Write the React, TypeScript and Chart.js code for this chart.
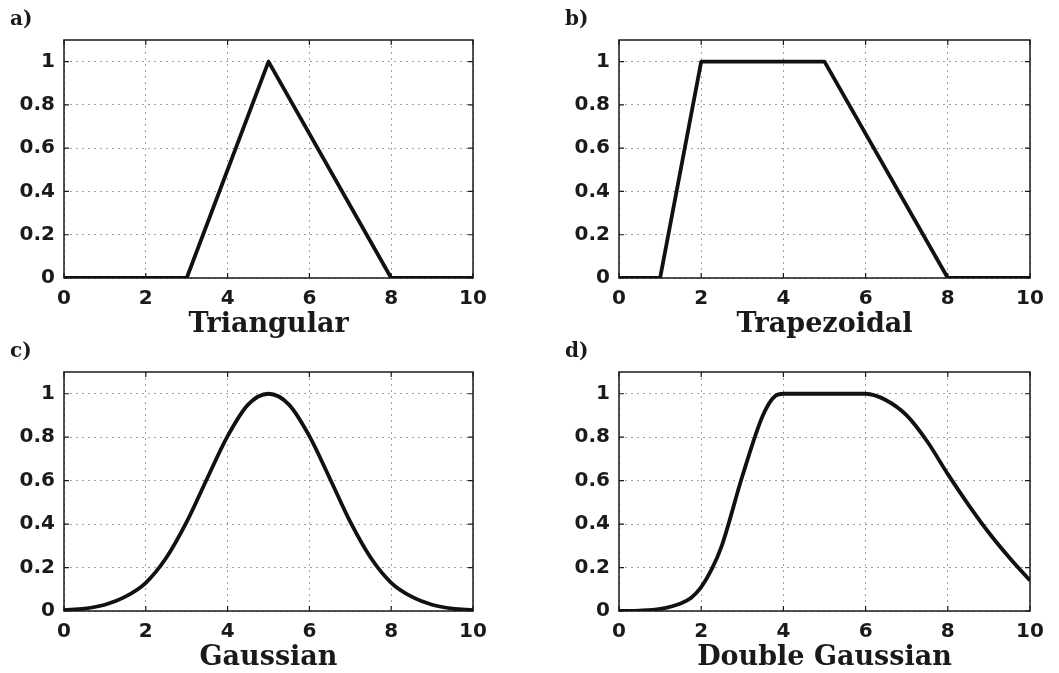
import React, { useEffect, useRef } from 'react';
import { Chart, registerables } from 'chart.js';

Chart.register(...registerables);

// ---- data ----
const triX = [0, 3, 5, 8, 10];
const triY = [0, 0, 1, 0, 0];

const trapX = [0, 1, 2, 5, 8, 10];
const trapY = [0, 0, 1, 1, 0, 0];

const gaussX = [0, 0.5, 1, 1.5, 2, 2.5, 3, 3.5, 4, 4.5, 5, 5.5, 6, 6.5, 7, 7.5, 8, 8.5, 9, 9.5, 10];
const gaussY = [0.004, 0.011, 0.029, 0.066, 0.13, 0.245, 0.41, 0.61, 0.805, 0.95, 1, 0.95, 0.805, 0.61, 0.41, 0.245, 0.13, 0.066, 0.029, 0.011, 0.004];

const dgX = [0, 0.5, 1, 1.5, 1.75, 2, 2.25, 2.5, 3, 3.5, 3.8, 4, 5, 6, 6.5, 7, 7.5, 8, 8.5, 9, 9.5, 10];
const dgY = [0, 0.002, 0.01, 0.035, 0.06, 0.11, 0.19, 0.3, 0.62, 0.9, 0.99, 1, 1, 1, 0.97, 0.9, 0.78, 0.63, 0.49, 0.36, 0.245, 0.14];

const xTicks = [0, 2, 4, 6, 8, 10];
const yTicks = [0, 0.2, 0.4, 0.6, 0.8, 1];
const xMin = 0;
const xMax = 10;
const yMin = 0;
const yMax = 1.1;

const panelLabels = ['a)', 'b)', 'c)', 'd)'];
const panelTitles = ['Triangular', 'Trapezoidal', 'Gaussian', 'Double Gaussian'];

// ---- styles ----
const TICK_FONT = { family: "'DejaVu Sans', sans-serif", size: 20, weight: 'bold' as const, lineHeight: 1.2 };
const TITLE_FONT = { family: "'DejaVu Serif', serif", size: 27, weight: 'bold' as const, lineHeight: 1.1 };
const LABEL_FONT = { family: "'DejaVu Serif', serif", size: 20, weight: 'bold' as const, lineHeight: 1.0 };
const INK = '#1a1a1a';

const framePlugin = {
  id: 'frame',
  beforeDatasetsDraw(chart: any) {
    const { ctx, chartArea: a, scales } = chart;
    ctx.save();
    ctx.strokeStyle = INK;
    ctx.lineWidth = 1.5;
    ctx.strokeRect(a.left, a.top, a.right - a.left, a.bottom - a.top);
    ctx.lineWidth = 1.2;
    const L = 5;
    scales.x.ticks.forEach((t: any) => {
      const px = scales.x.getPixelForValue(t.value);
      ctx.beginPath();
      ctx.moveTo(px, a.bottom);
      ctx.lineTo(px, a.bottom - L);
      ctx.moveTo(px, a.top);
      ctx.lineTo(px, a.top + L);
      ctx.stroke();
    });
    scales.y.ticks.forEach((t: any) => {
      const py = scales.y.getPixelForValue(t.value);
      ctx.beginPath();
      ctx.moveTo(a.left, py);
      ctx.lineTo(a.left + L, py);
      ctx.moveTo(a.right, py);
      ctx.lineTo(a.right - L, py);
      ctx.stroke();
    });
    ctx.restore();
  },
};

type PanelCfg = {
  label: string;
  title: string;
  xs: number[];
  ys: number[];
  smooth: boolean;
  left: number;
  top: number;
  width: number;
  height: number;
  padLeft: number;
  padRight: number;
};

function PanelChart({ p }: { p: PanelCfg }) {
  const ref = useRef<HTMLCanvasElement>(null);
  useEffect(() => {
    if (!ref.current) return;
    const chart = new Chart(ref.current, {
      type: 'line',
      data: {
        datasets: [
          {
            data: p.xs.map((x, i) => ({ x, y: p.ys[i] })),
            borderColor: '#111',
            borderWidth: 3.8,
            pointRadius: 0,
            fill: false,
            tension: 0,
            borderJoinStyle: 'round',
            cubicInterpolationMode: p.smooth ? 'monotone' : 'default',
          } as any,
        ],
      },
      options: {
        animation: false,
        responsive: false,
        devicePixelRatio: 1,
        layout: { padding: { left: p.padLeft, right: p.padRight, top: 0, bottom: 0 } },
        plugins: {
          legend: { display: false },
          tooltip: { enabled: false },
          title: {
            display: true,
            text: p.label,
            align: 'start',
            color: INK,
            font: LABEL_FONT,
            padding: { top: 10, bottom: 10 },
          },
        },
        scales: {
          x: {
            type: 'linear',
            min: xMin,
            max: xMax,
            afterBuildTicks: (s: any) => {
              s.ticks = xTicks.map((v) => ({ value: v }));
            },
            afterFit: (s: any) => {
              s.height = 62;
              s.paddingLeft = 0;
              s.paddingRight = 0;
            },
            grid: { color: '#a0a0a0', lineWidth: 1, drawTicks: false },
            border: { display: false, dash: [2, 4] },
            ticks: {
              padding: 9,
              font: TICK_FONT,
              color: INK,
              maxRotation: 0,
              autoSkip: false,
              callback: (v: any) => String(v),
            },
            title: {
              display: true,
              text: p.title,
              font: TITLE_FONT,
              color: INK,
              padding: { top: 0, bottom: 0 },
            },
          },
          y: {
            type: 'linear',
            min: yMin,
            max: yMax,
            afterBuildTicks: (s: any) => {
              s.ticks = yTicks.map((v) => ({ value: v }));
            },
            afterFit: (s: any) => {
              s.width = 54;
              s.paddingTop = 0;
              s.paddingBottom = 0;
            },
            grid: { color: '#a0a0a0', lineWidth: 1, drawTicks: false },
            border: { display: false, dash: [2, 4] },
            ticks: {
              padding: 9,
              font: TICK_FONT,
              color: INK,
              autoSkip: false,
              callback: (v: any) => String(v),
            },
          },
        },
      } as any,
      plugins: [framePlugin],
    });
    return () => chart.destroy();
  }, []);
  return (
    <canvas
      ref={ref}
      width={p.width}
      height={p.height}
      style={{ position: 'absolute', left: p.left, top: p.top, width: p.width, height: p.height }}
    />
  );
}

const panels: PanelCfg[] = [
  { label: panelLabels[0], title: panelTitles[0], xs: triX, ys: triY, smooth: false, left: 0, top: 0, width: 530, height: 340, padLeft: 10, padRight: 57 },
  { label: panelLabels[1], title: panelTitles[1], xs: trapX, ys: trapY, smooth: false, left: 530, top: 0, width: 529, height: 340, padLeft: 35, padRight: 29 },
  { label: panelLabels[2], title: panelTitles[2], xs: gaussX, ys: gaussY, smooth: true, left: 0, top: 332, width: 530, height: 341, padLeft: 10, padRight: 57 },
  { label: panelLabels[3], title: panelTitles[3], xs: dgX, ys: dgY, smooth: true, left: 530, top: 332, width: 529, height: 341, padLeft: 35, padRight: 29 },
];

export default function App() {
  return (
    <div
      style={{
        position: 'fixed',
        left: 0,
        top: 0,
        width: 1059,
        height: 673,
        background: '#fff',
        overflow: 'hidden',
      }}
    >
      {panels.map((p) => (
        <PanelChart key={p.label} p={p} />
      ))}
    </div>
  );
}
